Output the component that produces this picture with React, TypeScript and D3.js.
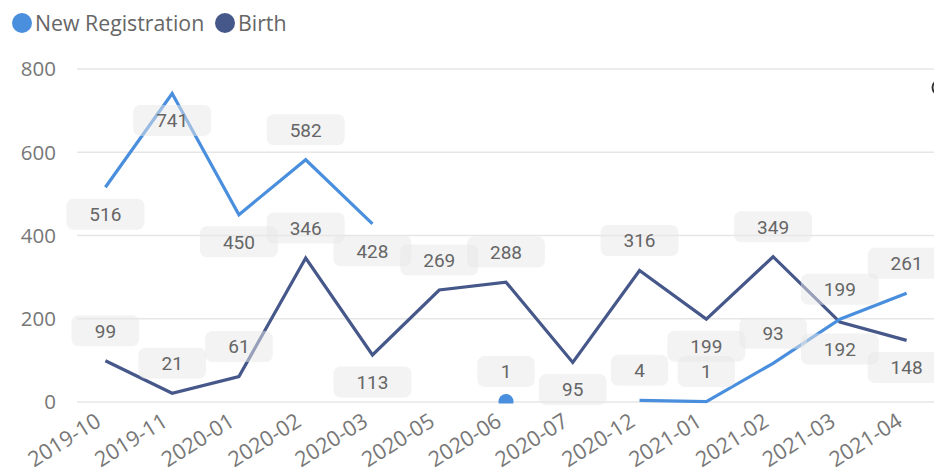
import React from "react";
import * as d3 from "d3";

const categories = ["2019-10","2019-11","2020-01","2020-02","2020-03","2020-05","2020-06","2020-07","2020-12","2021-01","2021-02","2021-03","2021-04"];
const newRegistration: (number | null)[] = [516, 741, 450, 582, 428, null, 1, null, 4, 1, 93, 199, 261];
const birth: number[] = [99, 21, 61, 346, 113, 269, 288, 95, 316, 199, 349, 192, 148];
// label side: -1 above the point, 1 below
const newRegLabelSide = [1, 1, 1, -1, 1, 0, -1, 0, -1, -1, -1, -1, -1];
const birthLabelSide = [-1, -1, -1, -1, 1, -1, -1, 1, -1, 1, -1, 1, 1];
const yTicks = [0, 200, 400, 600, 800];
const seriesNames = ["New Registration", "Birth"];

const W = 934, H = 468;
const C_NR = "#4A8FDD";
const C_B = "#46578A";
const FONT = "'Open Sans', 'Noto Sans', sans-serif";
const LFONT = "Roboto, sans-serif";

export default function App() {
  const x = d3.scalePoint<string>().domain(categories).range([72, 940]).padding(0.5);
  const y = d3.scaleLinear().domain([0, 800]).range([402, 69]);
  const line = d3.line<number | null>()
    .defined(d => d != null)
    .x((_, i) => x(categories[i])!)
    .y(d => y(d as number));

  const labels: { v: number; i: number; side: number }[] = [];
  newRegistration.forEach((v, i) => { if (v != null) labels.push({ v, i, side: newRegLabelSide[i] }); });
  birth.forEach((v, i) => labels.push({ v, i, side: birthLabelSide[i] }));

  const isolated = newRegistration.map((v, i) => v != null && (i === 0 || newRegistration[i - 1] == null) && (i === newRegistration.length - 1 || newRegistration[i + 1] == null));

  return (
    <div style={{ position: "fixed", left: 0, top: 0, width: W, height: H, background: "#fff" }}>
      <svg width={W} height={H} style={{ display: "block" }}>
        <defs>
          <clipPath id="plot"><rect x={60} y={0} width={900} height={403.5} /></clipPath>
        </defs>
        {/* legend */}
        <circle cx={22} cy={23} r={10} fill={C_NR} />
        <text x={35} y={31} fontFamily={FONT} fontSize={21.3} fill="#666">{seriesNames[0]}</text>
        <circle cx={225} cy={23} r={10} fill={C_B} />
        <text x={238} y={31} fontFamily={FONT} fontSize={21.3} fill="#666">{seriesNames[1]}</text>
        {/* grid */}
        {yTicks.map(t => (
          <g key={t}>
            <line x1={77} x2={W} y1={y(t)} y2={y(t)} stroke="#e6e6e6" strokeWidth={1.5} />
            <text x={56} y={y(t)} dy="0.36em" textAnchor="end" fontFamily={FONT} fontSize={20.5} fill="#777">{t}</text>
          </g>
        ))}
        {/* x labels */}
        {categories.map(c => (
          <text key={c} transform={`translate(${x(c)! - 3},${425}) rotate(-32)`} textAnchor="end" fontFamily={FONT} fontSize={21.5} fill="#777">{c}</text>
        ))}
        <g clipPath="url(#plot)">
          <path d={line(birth) || ""} fill="none" stroke={C_B} strokeWidth={3.2} strokeLinejoin="miter" />
          <path d={line(newRegistration) || ""} fill="none" stroke={C_NR} strokeWidth={3.2} strokeLinejoin="miter" />
          {newRegistration.map((v, i) => isolated[i] ? (
            <circle key={i} cx={x(categories[i])!} cy={y(v as number)} r={7.5} fill={C_NR} />
          ) : null)}
        </g>
        {/* labels */}
        {labels.map((l, k) => {
          const cx = x(categories[l.i])!;
          const cy = y(l.v) + (l.side < 0 ? -30 : 27);
          const txt = String(l.v);
          const w = 47 + 10.3 * txt.length;
          return (
            <g key={k}>
              <rect x={cx - w / 2} y={cy - 15.5} width={w} height={31} rx={7} fill="rgb(232,232,232)" fillOpacity={0.5} />
              <text x={cx} y={cy} dy="0.36em" textAnchor="middle" fontFamily={LFONT} fontSize={19} fill="#666">{txt}</text>
            </g>
          );
        })}
        {/* partial control at right edge */}
        <circle cx={939.5} cy={87.5} r={7} fill="none" stroke="#333" strokeWidth={2} />
      </svg>
    </div>
  );
}
